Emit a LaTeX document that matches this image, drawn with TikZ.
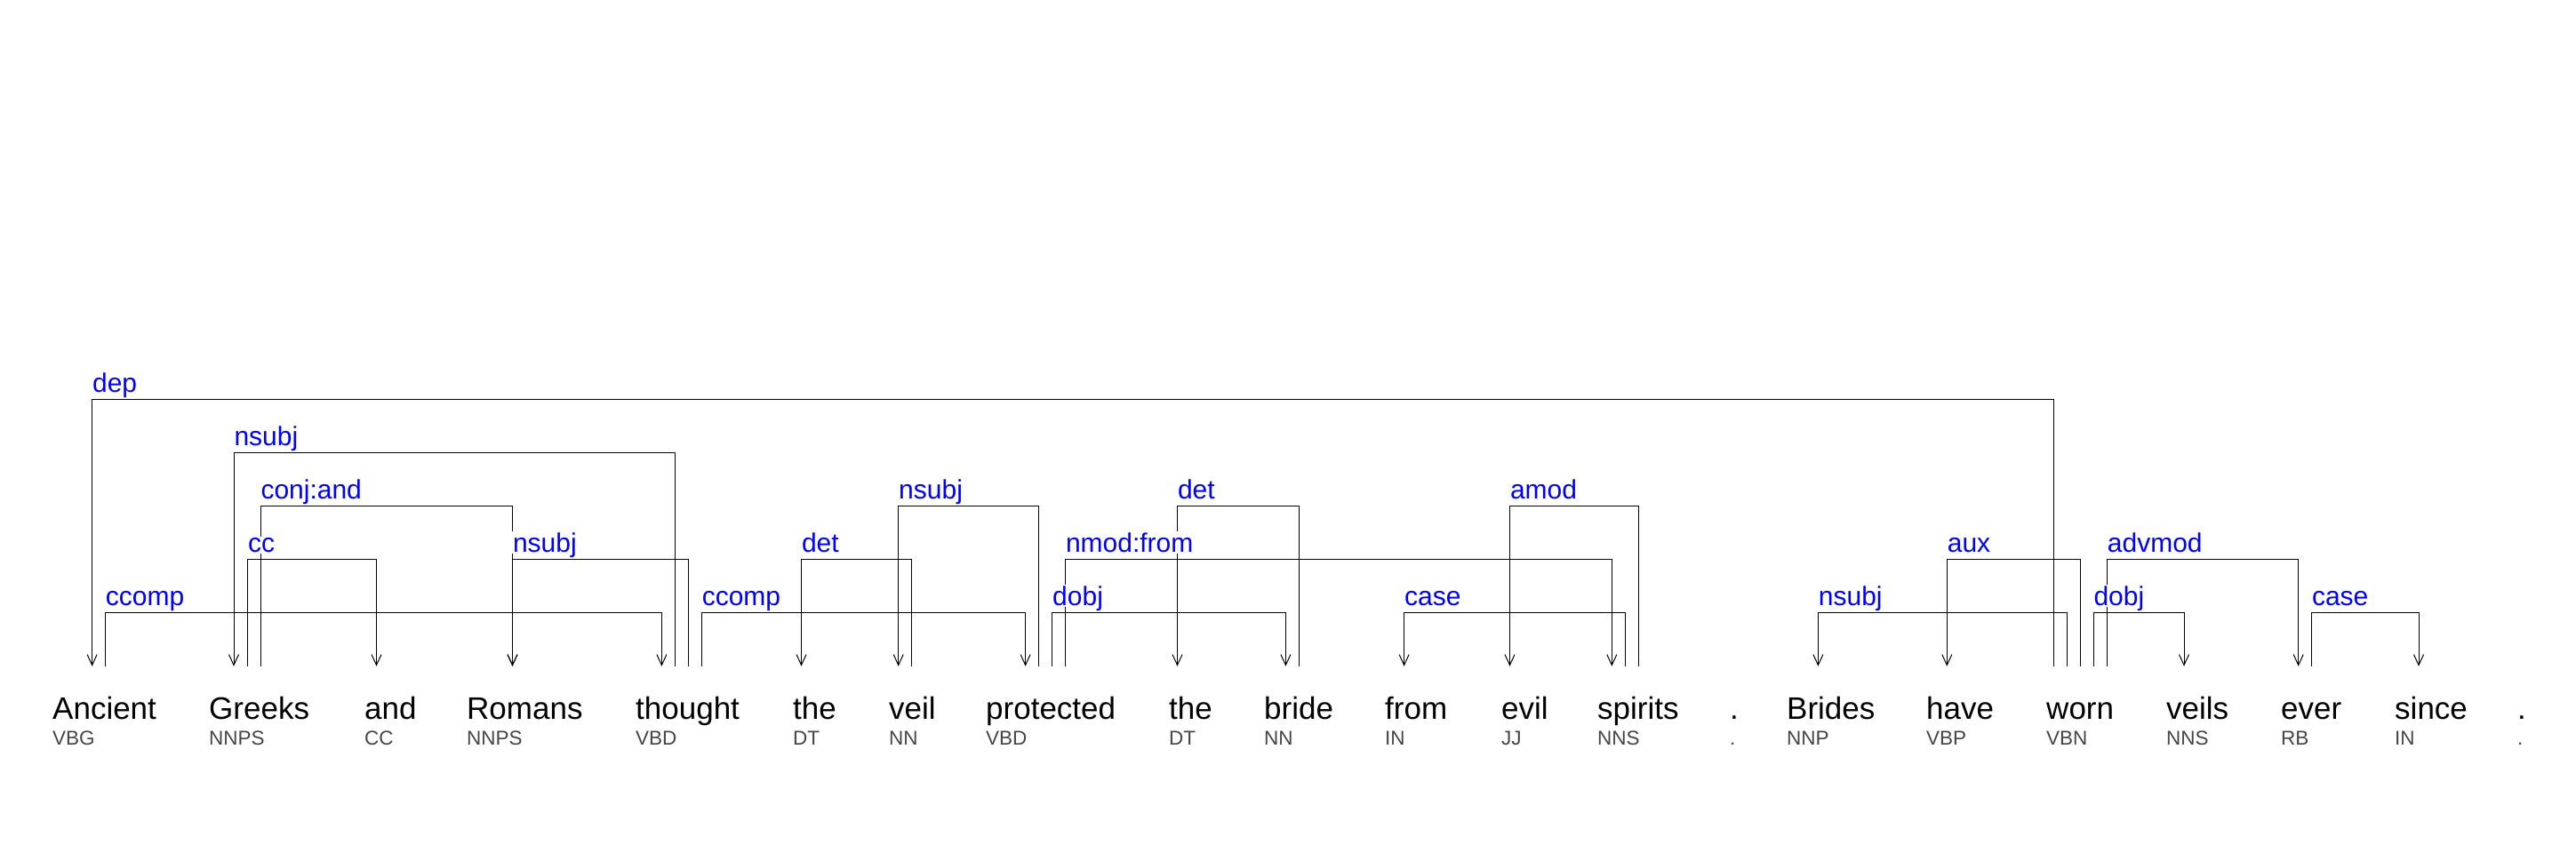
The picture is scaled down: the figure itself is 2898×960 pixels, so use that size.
\documentclass[tikz,border=0pt]{standalone}
\usepackage{fontspec}
\setmainfont{Liberation Sans}
\usetikzlibrary{arrows.meta}
\definecolor{tagcol}{HTML}{454545}

\tikzstyle{word} = [anchor=base west, inner sep=0pt, text height=60pt, font=\fontsize{35}{42}\selectfont]
\tikzstyle{tag} = [anchor=base west, inner sep=0pt, text=tagcol, font=\fontsize{22.5}{27}\selectfont]
\tikzstyle{rel} = [anchor=base west, xshift=-2pt, yshift=8.5pt, inner xsep=2pt, inner ysep=1.5pt, text depth=0pt, fill=white, text=blue, font=\fontsize{30}{36}\selectfont]
\tikzstyle{arc} = [line width=1pt, -{Straight Barb[length=12pt,width=11pt]}]
\tikzstyle{arcback} = [line width=1pt, {Straight Barb[length=12pt,width=11pt]}-]

\begin{document}
\begin{tikzpicture}[x=1pt, y=1pt]
\useasboundingbox (0,0) rectangle (2898,960);

% words
\node (ancient) [word] at (59,150) {Ancient};
\node (greeks) [word] at (235,150) {Greeks};
\node (and) [word] at (410,150) {and};
\node (romans) [word] at (525,150) {Romans};
\node (thought) [word] at (715,150) {thought};
\node (the1) [word] at (892,150) {the};
\node (veil) [word] at (1000,150) {veil};
\node (protected) [word] at (1109,150) {protected};
\node (the2) [word] at (1315,150) {the};
\node (bride) [word] at (1422,150) {bride};
\node (from) [word] at (1558,150) {from};
\node (evil) [word] at (1689,150) {evil};
\node (spirits) [word] at (1797,150) {spirits};
\node (dot1) [word] at (1946,150) {.};
\node (brides) [word] at (2010,150) {Brides};
\node (have) [word] at (2167,150) {have};
\node (worn) [word] at (2302,150) {worn};
\node (veils) [word] at (2437,150) {veils};
\node (ever) [word] at (2566,150) {ever};
\node (since) [word] at (2694,150) {since};
\node (dot2) [word] at (2832,150) {.};

% tags
\node (ancient_pos) [tag] at ([yshift=-29pt]ancient.base west) {VBG};
\node (greeks_pos) [tag] at ([yshift=-29pt]greeks.base west) {NNPS};
\node (and_pos) [tag] at ([yshift=-29pt]and.base west) {CC};
\node (romans_pos) [tag] at ([yshift=-29pt]romans.base west) {NNPS};
\node (thought_pos) [tag] at ([yshift=-29pt]thought.base west) {VBD};
\node (the1_pos) [tag] at ([yshift=-29pt]the1.base west) {DT};
\node (veil_pos) [tag] at ([yshift=-29pt]veil.base west) {NN};
\node (protected_pos) [tag] at ([yshift=-29pt]protected.base west) {VBD};
\node (the2_pos) [tag] at ([yshift=-29pt]the2.base west) {DT};
\node (bride_pos) [tag] at ([yshift=-29pt]bride.base west) {NN};
\node (from_pos) [tag] at ([yshift=-29pt]from.base west) {IN};
\node (evil_pos) [tag] at ([yshift=-29pt]evil.base west) {JJ};
\node (spirits_pos) [tag] at ([yshift=-29pt]spirits.base west) {NNS};
\node (dot1_pos) [tag] at ([yshift=-29pt]dot1.base west) {.};
\node (brides_pos) [tag] at ([yshift=-29pt]brides.base west) {NNP};
\node (have_pos) [tag] at ([yshift=-29pt]have.base west) {VBP};
\node (worn_pos) [tag] at ([yshift=-29pt]worn.base west) {VBN};
\node (veils_pos) [tag] at ([yshift=-29pt]veils.base west) {NNS};
\node (ever_pos) [tag] at ([yshift=-29pt]ever.base west) {RB};
\node (since_pos) [tag] at ([yshift=-29pt]since.base west) {IN};
\node (dot2_pos) [tag] at ([yshift=-29pt]dot2.base west) {.};

% arcs, highest first so the labels below cover the lines
\draw [arcback] ([xshift=44.6pt]ancient.north west) -- ++(0,300) node[rel] {dep} -| ([xshift=8.2pt]worn.north west);
\draw [arcback] ([xshift=28pt]greeks.north west) -- ++(0,240) node[rel] {nsubj} -| ([xshift=44.7pt]thought.north west);

\draw [arc] ([xshift=58pt]greeks.north west) -- ++(0,180) node[rel] {conj:and} -| ([xshift=51.5pt]romans.north west);
\draw [arcback] ([xshift=10.7pt]veil.north west) -- ++(0,180) node[rel] {nsubj} -| ([xshift=59.4pt]protected.north west);
\draw [arcback] ([xshift=9.5pt]the2.north west) -- ++(0,180) node[rel] {det} -| ([xshift=39.7pt]bride.north west);
\draw [arcback] ([xshift=9.5pt]evil.north west) -- ++(0,180) node[rel] {amod} -| ([xshift=46.4pt]spirits.north west);

\draw [arc] ([xshift=43.6pt]greeks.north west) -- ++(0,120) node[rel] {cc} -| ([xshift=13.5pt]and.north west);
\draw [arcback] ([xshift=51.5pt]romans.north west) -- ++(0,120) node[rel] {nsubj} -| ([xshift=59.5pt]thought.north west);
\draw [arcback] ([xshift=9.5pt]the1.north west) -- ++(0,120) node[rel] {det} -| ([xshift=25.5pt]veil.north west);
\draw [arc] ([xshift=89.5pt]protected.north west) -- ++(0,120) node[rel] {nmod:from} -| ([xshift=16.3pt]spirits.north west);
\draw [arcback] ([xshift=23.3pt]have.north west) -- ++(0,120) node[rel] {aux} -| ([xshift=38.3pt]worn.north west);
\draw [arc] ([xshift=68.4pt]worn.north west) -- ++(0,120) node[rel] {advmod} -| ([xshift=19.7pt]ever.north west);

\draw [arc] ([xshift=59.4pt]ancient.north west) -- ++(0,60) node[rel] {ccomp} -| ([xshift=29.4pt]thought.north west);
\draw [arc] ([xshift=74.3pt]thought.north west) -- ++(0,60) node[rel] {ccomp} -| ([xshift=44.6pt]protected.north west);
\draw [arc] ([xshift=74.7pt]protected.north west) -- ++(0,60) node[rel] {dobj} -| ([xshift=24.4pt]bride.north west);
\draw [arcback] ([xshift=21.6pt]from.north west) -- ++(0,60) node[rel] {case} -| ([xshift=31.6pt]spirits.north west);
\draw [arcback] ([xshift=35.4pt]brides.north west) -- ++(0,60) node[rel] {nsubj} -| ([xshift=23pt]worn.north west);
\draw [arc] ([xshift=53pt]worn.north west) -- ++(0,60) node[rel] {dobj} -| ([xshift=20pt]veils.north west);
\draw [arc] ([xshift=34.5pt]ever.north west) -- ++(0,60) node[rel] {case} -| ([xshift=27pt]since.north west);
\end{tikzpicture}
\end{document}
